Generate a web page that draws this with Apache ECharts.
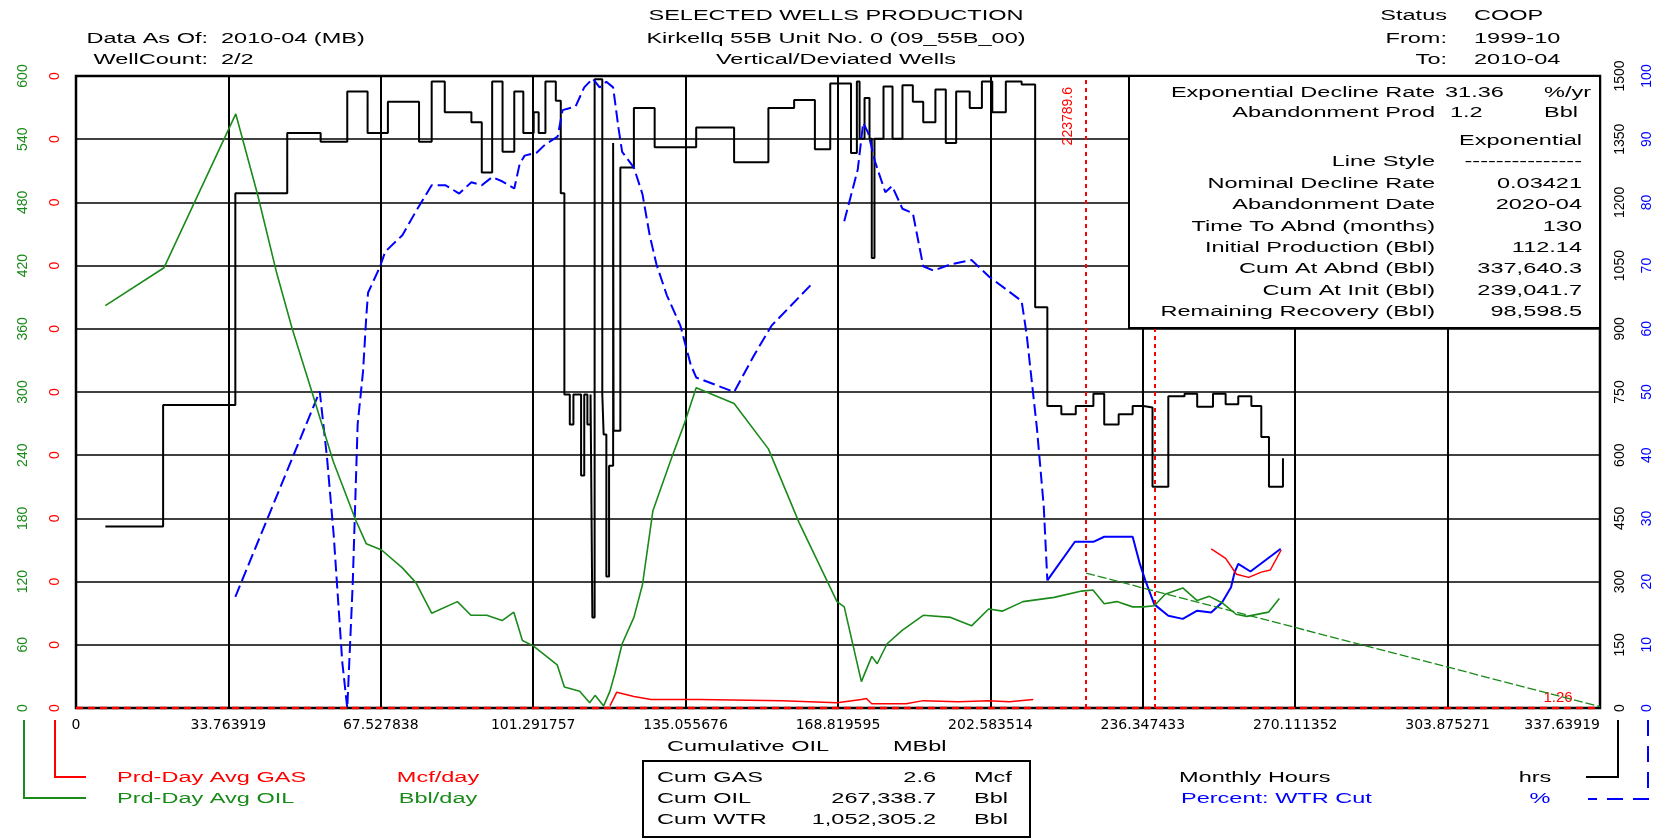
<!DOCTYPE html>
<html><head><meta charset="utf-8">
<script src="https://cdn.jsdelivr.net/npm/echarts/dist/echarts.min.js"></script>
<style>html,body{margin:0;padding:0;background:#fff}#c{width:1663px;height:840px}</style>
</head><body><div id="c"></div>
<script>
// ---------------- data ----------------
const X_MIN = 0, X_MAX = 337.63919, X_STEP = 33.763919;
const OIL_MAX = 600, OIL_STEP = 60;
const GAS_MAX = 0.6, GAS_STEP = 0.06;
const HRS_MAX = 1500, HRS_STEP = 150;
const WC_MAX = 100, WC_STEP = 10;

// Monthly hours (step, value holds from x until next x)
const hoursSteps = [[6.5,431],[19.3,719],[35.3,1222],[46.8,1365],[54.2,1344],[60.1,1463],[64.6,1365],[69.1,1439],[76.0,1344],[78.8,1487],[81.7,1414],[87.6,1390],[89.9,1271],[92.2,1487],[94.5,1320],[97.1,1463],[99.1,1365],[101.4,1414],[102.5,1365],[104.0,1487],[106.3,1441],[107.4,1222],[108.2,744],[109.4,673],[110.2,744],[111.9,552],[112.6,744],[113.3,673],[114.0,744],[114.4,215],[114.9,1492],[116.6,744],[116.9,649],[117.5,312],[118.1,575],[119.0,1341],[119.1,658],[120.6,1283],[123.6,1424],[128.2,1331],[137.4,1378],[145.8,1295],[153.4,1424],[159.1,1443],[163.7,1326],[167.1,1482],[171.7,1317],[173.0,1487],[173.6,1351],[174.7,1448],[175.8,1351],[176.3,1068],[176.9,1351],[178.9,1475],[180.9,1351],[183.1,1478],[185.4,1439],[187.7,1390],[190.4,1468],[192.7,1341],[195.0,1463],[198.0,1424],[200.7,1487],[203.0,1414],[206.0,1487],[209.5,1480],[212.5,951],[215.2,717],[218.3,697],[221.5,717],[225.4,746],[227.8,673],[231.0,697],[234.1,717],[236.5,713],[238.5,525],[242.0,740],[245.6,746],[248.4,715],[251.9,746],[254.7,721],[257.5,740],[260.4,717],[262.6,643],[264.3,525],[267.4,593]];

// Prd-Day Avg OIL (Bbl/day)
const oilRate = [[6.5,382],[19.5,418],[35.4,564],[40.2,488],[44.4,414],[47.9,360],[52.5,297],[57.0,234],[62.0,178],[64.3,156],[67.7,150],[72.3,133],[75.3,119],[78.8,90],[84.5,101],[87.5,88],[91.0,88],[94.4,83],[97.0,91],[98.9,64],[101.3,59],[106.6,41],[108.2,20],[111.6,16],[113.8,5],[115.0,12],[116.9,2],[118.3,16],[119.4,33],[121.0,61],[123.6,86],[125.5,117],[127.8,187],[132.0,238],[134.7,269],[137.4,304],[145.8,289],[153.4,246],[160.2,176],[168.6,101],[170.2,96],[174.0,25],[176.3,49],[177.5,42],[179.7,61],[183.1,74],[187.7,88],[193.8,86],[198.4,78],[202.2,94],[205.3,92],[209.8,101],[216.7,105],[222.8,111],[225.3,112],[227.8,99],[230.6,101],[234.1,96],[236.5,96],[238.9,97],[241.3,108],[245.2,114],[248.4,102],[251.1,106],[253.9,100],[257.0,89],[259.4,87],[264.2,91],[266.6,104]];

// Exponential forecast of OIL
const oilForecast = [[223.7896,128],[337.63919,1.26]];

// Percent WTR Cut
const wcDashedA = [[35.3,17.6],[54.0,50.1],[55.6,39.7],[57.1,27.3],[59.0,7.2],[60.1,0],[61.3,19.5],[62.4,44.9],[63.6,53.3],[64.3,61.8],[64.7,65.7],[67.4,69.9],[68.5,72.2],[72.3,74.8],[75.4,78.7],[78.8,82.7],[81.9,82.7],[84.9,81.4],[87.6,83.2],[89.9,82.7],[92.2,84.0],[94.5,83.3],[97.1,82.2],[98.3,86.1],[99.4,87.4],[102.1,87.9],[104.0,89.2],[106.7,90.4],[107.8,94.6],[110.7,95.2],[112.6,98.2],[114.5,99.6],[116.0,98.2],[117.5,99.1],[119.0,98.2],[120.2,91.7],[121.0,88.0],[123.6,85.5],[125.5,81.3],[127.1,74.8],[128.6,70.2],[130.9,65.3],[133.9,60.5],[136.2,54.3],[137.4,52.3],[145.8,50.0],[150.3,55.9],[154.1,60.5],[163.3,67.3]];
const wcDashedB = [[170.2,77.0],[173.2,85.2],[174.4,92.6],[175.5,91.0],[177.0,86.5],[179.3,81.6],[180.8,82.6],[183.1,79.0],[185.4,78.3],[187.7,69.9],[190.0,69.2],[193.8,70.2],[198.4,70.9],[202.2,68.3],[209.5,64.4],[210.6,59.2],[212.9,44.2],[214.4,31.9],[215.2,20.2]];
const wcSolid = [[215.2,20.2],[221.3,26.3],[225.4,26.3],[227.8,27.1],[234.1,27.1],[235.7,22.8],[236.9,20.2],[238.9,16.4],[242.0,14.6],[245.2,14.1],[248.4,15.4],[251.5,15.1],[253.9,16.7],[255.9,19.1],[256.7,21.5],[257.5,22.8],[260.2,21.6],[266.9,25.2]];

// Prd-Day Avg GAS (Mcf/day)
const gasRate = [[118.3,0.002],[119.8,0.015],[123.6,0.011],[127.4,0.008],[138.1,0.008],[156.4,0.007],[168.6,0.005],[174.0,0.008],[175.1,0.009],[176.3,0.004],[183.9,0.004],[187.7,0.007],[195.4,0.006],[202.2,0.007],[206.8,0.006],[212.1,0.008]];
const gasLate = [[251.5,0.151],[254.7,0.142],[257.1,0.127],[259.8,0.124],[262.6,0.129],[264.6,0.131],[267.0,0.150]];
const gasZero = [[0,0],[337.63919,0]];

const decisionCums = [223.7896, 239.0417];
const decisionLabel = '223789.6';
const abandonLabel = '1.26';

// texts
const titleLines = ['SELECTED WELLS PRODUCTION','Kirkellq 55B Unit No. 0 (09_55B_00)','Vertical/Deviated Wells'];
const leftHdrLabels = ['Data As Of:','WellCount:'];
const leftHdrValues = ['2010-04 (MB)','2/2'];
const rightHdrLabels = ['Status','From:','To:'];
const rightHdrValues = ['COOP','1999-10','2010-04'];
const infoLabels = ['Exponential Decline Rate','Abandonment Prod','','Line Style','Nominal Decline Rate','Abandonment Date','Time To Abnd (months)','Initial Production (Bbl)','Cum At Abnd (Bbl)','Cum At Init (Bbl)','Remaining Recovery (Bbl)'];
const infoValues = ['31.36','1.2','Exponential','---------------','0.03421','2020-04','130','112.14','337,640.3','239,041.7','98,598.5'];
const infoUnits = ['%/yr','Bbl'];
const cumLabels = ['Cum GAS','Cum OIL','Cum WTR'];
const cumValues = ['2.6','267,338.7','1,052,305.2'];
const cumUnits = ['Mcf','Bbl','Bbl'];

// ---------------- layout ----------------
const G = {left:76, top:76, right:1600, bottom:708};
const FONT = '14px "Liberation Sans", Arial, sans-serif';
const SX = 1.68;
const RED='#ff0000', GREEN='#1a8a1a', BLUE='#0000ff', BLACK='#000000';

function txt(x, y, text, align, color, z) {
  return {type:'text', x:x, y:y, scaleX:SX, z: z||60,
    style:{text:text, fill:color||BLACK, font:FONT, align:align, verticalAlign:'middle', textAlign:align, textVerticalAlign:'middle'}};
}
const graphics = [];
// headers
const hdrY = [16,39,60];
hdrY.forEach((y,i)=>graphics.push(txt(836,y,titleLines[i],'center')));
[hdrY[1],hdrY[2]].forEach((y,i)=>{graphics.push(txt(208,y,leftHdrLabels[i],'right'));graphics.push(txt(221,y,leftHdrValues[i],'left'));});
hdrY.forEach((y,i)=>{graphics.push(txt(1447,y,rightHdrLabels[i],'right'));graphics.push(txt(1474,y,rightHdrValues[i],'left'));});
// info box
graphics.push({type:'rect', z:55, shape:{x:1129,y:G.top,width:G.right-1129,height:252}, style:{fill:'#fff',stroke:BLACK,lineWidth:2}});
const infoY = [93,113,141,162,184,205,227,248,269,291,312];
infoY.forEach((y,i)=>{
  if (infoLabels[i]) graphics.push(txt(1435,y,infoLabels[i],'right'));
  if (i<2) { graphics.push(txt(i===0?1445:1450,y,infoValues[i],'left')); graphics.push(txt(1544,y,infoUnits[i],'left')); }
  else graphics.push(txt(1582,y,infoValues[i],'right'));
});
// x axis title
graphics.push(txt(667,747,'Cumulative OIL','left'));
graphics.push(txt(893,747,'MBbl','left'));
// cum box
graphics.push({type:'rect', z:55, shape:{x:643,y:761,width:387,height:76}, style:{fill:'#fff',stroke:BLACK,lineWidth:2}});
[778,799,820].forEach((y,i)=>{graphics.push(txt(657,y,cumLabels[i],'left'));graphics.push(txt(936,y,cumValues[i],'right'));graphics.push(txt(974,y,cumUnits[i],'left'));});
// legends
graphics.push(txt(117,778,'Prd-Day Avg GAS','left',RED));
graphics.push(txt(438,778,'Mcf/day','center',RED));
graphics.push(txt(117,799,'Prd-Day Avg OIL','left',GREEN));
graphics.push(txt(438,799,'Bbl/day','center',GREEN));
graphics.push(txt(1179,778,'Monthly Hours','left',BLACK));
graphics.push(txt(1535,778,'hrs','center',BLACK));
graphics.push(txt(1181,799,'Percent: WTR Cut','left',BLUE));
graphics.push(txt(1540,799,'%','center',BLUE));
function poly(points, color, dash) {
  return {type:'polyline', z:50, shape:{points:points}, style:{stroke:color, lineWidth:2, fill:null, lineDash:dash||null}};
}
graphics.push(poly([[24,720],[24,798],[86,798]],GREEN));
graphics.push(poly([[55,720],[55,777],[86,777]],RED));
graphics.push(poly([[1618,720],[1618,777],[1586,777]],BLACK));
graphics.push(poly([[1648,720],[1648,799],[1588,799]],BLUE,[16,10]));

const labelFont = {fontFamily:'"Liberation Sans", Arial, sans-serif', fontSize:14};
const plain = v => String(v);

const option = {
  animation:false,
  backgroundColor:'#fff',
  grid:{left:G.left, top:G.top, width:G.right-G.left, height:G.bottom-G.top, show:true, borderColor:BLACK, borderWidth:2.5, backgroundColor:'#fff'},
  xAxis:{type:'value', min:X_MIN, max:X_MAX, interval:X_STEP,
    axisLine:{show:false}, axisTick:{show:false},
    splitLine:{show:true, lineStyle:{color:BLACK, width:2}},
    axisLabel:{margin:10, color:BLACK, fontFamily:'"DejaVu Sans", sans-serif', fontSize:14, alignMaxLabel:'right', showMaxLabel:true, showMinLabel:true,
      formatter:v=>String(+v.toFixed(6))}},
  yAxis:[
    {type:'value', position:'left', offset:32, min:0, max:OIL_MAX, interval:OIL_STEP,
      axisLine:{show:false}, axisTick:{show:false},
      splitLine:{show:true, lineStyle:{color:BLACK, width:1.5}},
      axisLabel:Object.assign({rotate:90, margin:14, color:GREEN, formatter:plain}, labelFont)},
    {type:'value', position:'left', offset:0, min:0, max:GAS_MAX, interval:GAS_STEP,
      axisLine:{show:false}, axisTick:{show:false}, splitLine:{show:false},
      axisLabel:Object.assign({rotate:90, margin:14, color:RED, formatter:v=>String(Math.floor(v))}, labelFont)},
    {type:'value', position:'right', offset:0, min:0, max:HRS_MAX, interval:HRS_STEP,
      axisLine:{show:false}, axisTick:{show:false}, splitLine:{show:false},
      axisLabel:Object.assign({rotate:90, margin:13, color:BLACK, formatter:plain}, labelFont)},
    {type:'value', position:'right', offset:27, min:0, max:WC_MAX, interval:WC_STEP,
      axisLine:{show:false}, axisTick:{show:false}, splitLine:{show:false},
      axisLabel:Object.assign({rotate:90, margin:13, color:BLUE, formatter:plain}, labelFont)}
  ],
  series:[
    {name:'Monthly Hours', type:'line', yAxisIndex:2, data:hoursSteps, step:'end', showSymbol:false, symbol:'none', z:3,
      lineStyle:{color:BLACK, width:2}},
    {name:'WTR Cut A', type:'line', yAxisIndex:3, data:wcDashedA, showSymbol:false, symbol:'none', z:4,
      lineStyle:{color:BLUE, width:2, type:[12,5]}},
    {name:'WTR Cut B', type:'line', yAxisIndex:3, data:wcDashedB, showSymbol:false, symbol:'none', z:4,
      lineStyle:{color:BLUE, width:2, type:[12,5]}},
    {name:'WTR Cut C', type:'line', yAxisIndex:3, data:wcSolid, showSymbol:false, symbol:'none', z:4,
      lineStyle:{color:BLUE, width:2}},
    {name:'Prd-Day Avg OIL', type:'line', yAxisIndex:0, data:oilRate, showSymbol:false, symbol:'none', z:5,
      lineStyle:{color:GREEN, width:1.6}},
    {name:'Forecast', type:'line', yAxisIndex:0, data:oilForecast, showSymbol:false, symbol:'none', z:5, clip:false,
      lineStyle:{color:GREEN, width:1.3, type:[9,3]},
      markPoint:{symbol:'circle', symbolSize:1, silent:true,
        itemStyle:{color:'rgba(0,0,0,0)'},
        data:[{coord:oilForecast[1], label:{show:true, formatter:abandonLabel, color:RED, fontSize:15, fontFamily:'"Liberation Sans", Arial, sans-serif', position:'top', offset:[-42,4]}}]}},
    {name:'Prd-Day Avg GAS', type:'line', yAxisIndex:1, data:gasRate, showSymbol:false, symbol:'none', z:6,
      lineStyle:{color:RED, width:1.5}},
    {name:'GAS late', type:'line', yAxisIndex:1, data:gasLate, showSymbol:false, symbol:'none', z:6,
      lineStyle:{color:RED, width:1.5}},
    {name:'GAS zero', type:'line', yAxisIndex:1, data:gasZero, showSymbol:false, symbol:'none', z:7, clip:false,
      lineStyle:{color:RED, width:2.5, type:[7,5]},
      markLine:{symbol:['none','none'], silent:true,
        lineStyle:{color:RED, width:2, type:[4,4]},
        data:[
          {xAxis:decisionCums[0], label:{show:true, formatter:decisionLabel, position:'insideEndTop', distance:11, color:RED, fontSize:14, fontFamily:'"Liberation Sans", Arial, sans-serif'}},
          {xAxis:decisionCums[1], label:{show:false}}
        ]}}
  ],
  graphic:graphics
};
const chart = echarts.init(document.getElementById('c'), null, {renderer:'canvas'});
chart.setOption(option);
</script></body></html>
